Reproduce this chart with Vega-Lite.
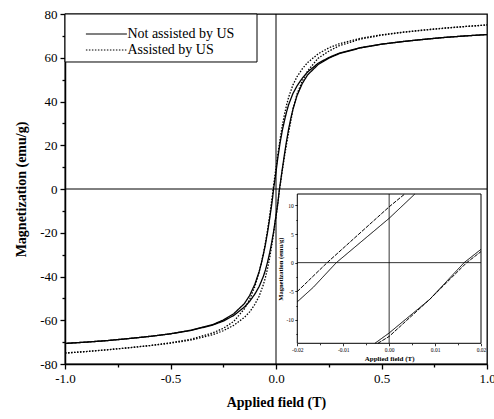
{
  "$schema": "https://vega.github.io/schema/vega-lite/v6.json",
  "width": 422,
  "height": 350,
  "autosize": {"type": "none"},
  "padding": {"left": 65, "top": 14, "right": 7, "bottom": 55},
  "background": "white",
  "config": {
    "font": "Liberation Serif",
    "view": {"stroke": "black", "strokeWidth": 1.3},
    "axis": {
      "grid": false,
      "tickCount": 100,
      "domainColor": "black",
      "tickColor": "black",
      "labelColor": "black",
      "titleColor": "black",
      "labelFont": "Liberation Serif",
      "titleFont": "Liberation Serif",
      "titleFontWeight": "bold"
    }
  },
  "datasets": {
    "loops": [
      {"s": "Not assisted by US", "b": "down", "h": 1.0, "m": 70.6},
      {"s": "Not assisted by US", "b": "down", "h": 0.9, "m": 70.0},
      {"s": "Not assisted by US", "b": "down", "h": 0.8, "m": 69.3},
      {"s": "Not assisted by US", "b": "down", "h": 0.7, "m": 68.4},
      {"s": "Not assisted by US", "b": "down", "h": 0.6, "m": 67.4},
      {"s": "Not assisted by US", "b": "down", "h": 0.5, "m": 66.2},
      {"s": "Not assisted by US", "b": "down", "h": 0.4, "m": 64.6},
      {"s": "Not assisted by US", "b": "down", "h": 0.3, "m": 62.1},
      {"s": "Not assisted by US", "b": "down", "h": 0.25, "m": 60.1},
      {"s": "Not assisted by US", "b": "down", "h": 0.2, "m": 57.5},
      {"s": "Not assisted by US", "b": "down", "h": 0.15, "m": 53.5},
      {"s": "Not assisted by US", "b": "down", "h": 0.125, "m": 50.7},
      {"s": "Not assisted by US", "b": "down", "h": 0.1, "m": 47.2},
      {"s": "Not assisted by US", "b": "down", "h": 0.08, "m": 43.6},
      {"s": "Not assisted by US", "b": "down", "h": 0.06, "m": 38.6},
      {"s": "Not assisted by US", "b": "down", "h": 0.05, "m": 35.2},
      {"s": "Not assisted by US", "b": "down", "h": 0.04, "m": 31.2},
      {"s": "Not assisted by US", "b": "down", "h": 0.03, "m": 26.8},
      {"s": "Not assisted by US", "b": "down", "h": 0.02, "m": 21.5},
      {"s": "Not assisted by US", "b": "down", "h": 0.01, "m": 15.2},
      {"s": "Not assisted by US", "b": "down", "h": 0.0056, "m": 12.0},
      {"s": "Not assisted by US", "b": "down", "h": 0.0, "m": 7.75},
      {"s": "Not assisted by US", "b": "down", "h": -0.0115, "m": 0.0},
      {"s": "Not assisted by US", "b": "down", "h": -0.0165, "m": -4.3},
      {"s": "Not assisted by US", "b": "down", "h": -0.02, "m": -6.85},
      {"s": "Not assisted by US", "b": "down", "h": -0.03, "m": -13.5},
      {"s": "Not assisted by US", "b": "down", "h": -0.04, "m": -19.7},
      {"s": "Not assisted by US", "b": "down", "h": -0.05, "m": -25.3},
      {"s": "Not assisted by US", "b": "down", "h": -0.06, "m": -30.0},
      {"s": "Not assisted by US", "b": "down", "h": -0.07, "m": -34.2},
      {"s": "Not assisted by US", "b": "down", "h": -0.08, "m": -37.8},
      {"s": "Not assisted by US", "b": "down", "h": -0.1, "m": -43.5},
      {"s": "Not assisted by US", "b": "down", "h": -0.125, "m": -48.7},
      {"s": "Not assisted by US", "b": "down", "h": -0.15, "m": -52.4},
      {"s": "Not assisted by US", "b": "down", "h": -0.2, "m": -57.0},
      {"s": "Not assisted by US", "b": "down", "h": -0.25, "m": -59.9},
      {"s": "Not assisted by US", "b": "down", "h": -0.3, "m": -62.0},
      {"s": "Not assisted by US", "b": "down", "h": -0.4, "m": -64.5},
      {"s": "Not assisted by US", "b": "down", "h": -0.5, "m": -66.2},
      {"s": "Not assisted by US", "b": "down", "h": -0.6, "m": -67.4},
      {"s": "Not assisted by US", "b": "down", "h": -0.7, "m": -68.4},
      {"s": "Not assisted by US", "b": "down", "h": -0.8, "m": -69.3},
      {"s": "Not assisted by US", "b": "down", "h": -0.9, "m": -70.0},
      {"s": "Not assisted by US", "b": "down", "h": -1.0, "m": -70.6},
      {"s": "Not assisted by US", "b": "up", "h": -1.0, "m": -70.6},
      {"s": "Not assisted by US", "b": "up", "h": -0.9, "m": -70.0},
      {"s": "Not assisted by US", "b": "up", "h": -0.8, "m": -69.3},
      {"s": "Not assisted by US", "b": "up", "h": -0.7, "m": -68.4},
      {"s": "Not assisted by US", "b": "up", "h": -0.6, "m": -67.4},
      {"s": "Not assisted by US", "b": "up", "h": -0.5, "m": -66.2},
      {"s": "Not assisted by US", "b": "up", "h": -0.4, "m": -64.6},
      {"s": "Not assisted by US", "b": "up", "h": -0.3, "m": -62.2},
      {"s": "Not assisted by US", "b": "up", "h": -0.25, "m": -60.4},
      {"s": "Not assisted by US", "b": "up", "h": -0.2, "m": -57.8},
      {"s": "Not assisted by US", "b": "up", "h": -0.15, "m": -54.0},
      {"s": "Not assisted by US", "b": "up", "h": -0.125, "m": -51.4},
      {"s": "Not assisted by US", "b": "up", "h": -0.1, "m": -48.0},
      {"s": "Not assisted by US", "b": "up", "h": -0.08, "m": -44.6},
      {"s": "Not assisted by US", "b": "up", "h": -0.06, "m": -40.0},
      {"s": "Not assisted by US", "b": "up", "h": -0.05, "m": -37.0},
      {"s": "Not assisted by US", "b": "up", "h": -0.04, "m": -33.4},
      {"s": "Not assisted by US", "b": "up", "h": -0.03, "m": -29.2},
      {"s": "Not assisted by US", "b": "up", "h": -0.02, "m": -24.3},
      {"s": "Not assisted by US", "b": "up", "h": -0.01, "m": -18.7},
      {"s": "Not assisted by US", "b": "up", "h": -0.0031, "m": -14.1},
      {"s": "Not assisted by US", "b": "up", "h": 0.0, "m": -12.3},
      {"s": "Not assisted by US", "b": "up", "h": 0.00886, "m": -6.4},
      {"s": "Not assisted by US", "b": "up", "h": 0.01633, "m": 0.0},
      {"s": "Not assisted by US", "b": "up", "h": 0.02, "m": 2.33},
      {"s": "Not assisted by US", "b": "up", "h": 0.03, "m": 9.2},
      {"s": "Not assisted by US", "b": "up", "h": 0.04, "m": 15.8},
      {"s": "Not assisted by US", "b": "up", "h": 0.05, "m": 22.0},
      {"s": "Not assisted by US", "b": "up", "h": 0.06, "m": 27.5},
      {"s": "Not assisted by US", "b": "up", "h": 0.07, "m": 32.2},
      {"s": "Not assisted by US", "b": "up", "h": 0.08, "m": 36.3},
      {"s": "Not assisted by US", "b": "up", "h": 0.1, "m": 42.8},
      {"s": "Not assisted by US", "b": "up", "h": 0.125, "m": 48.3},
      {"s": "Not assisted by US", "b": "up", "h": 0.15, "m": 52.2},
      {"s": "Not assisted by US", "b": "up", "h": 0.2, "m": 56.9},
      {"s": "Not assisted by US", "b": "up", "h": 0.25, "m": 59.8},
      {"s": "Not assisted by US", "b": "up", "h": 0.3, "m": 61.9},
      {"s": "Not assisted by US", "b": "up", "h": 0.4, "m": 64.5},
      {"s": "Not assisted by US", "b": "up", "h": 0.5, "m": 66.2},
      {"s": "Not assisted by US", "b": "up", "h": 0.6, "m": 67.4},
      {"s": "Not assisted by US", "b": "up", "h": 0.7, "m": 68.4},
      {"s": "Not assisted by US", "b": "up", "h": 0.8, "m": 69.3},
      {"s": "Not assisted by US", "b": "up", "h": 0.9, "m": 70.0},
      {"s": "Not assisted by US", "b": "up", "h": 1.0, "m": 70.6},
      {"s": "Assisted by US", "b": "down", "h": 1.0, "m": 75.0},
      {"s": "Assisted by US", "b": "down", "h": 0.9, "m": 74.3},
      {"s": "Assisted by US", "b": "down", "h": 0.8, "m": 73.6},
      {"s": "Assisted by US", "b": "down", "h": 0.7, "m": 72.7},
      {"s": "Assisted by US", "b": "down", "h": 0.6, "m": 71.7},
      {"s": "Assisted by US", "b": "down", "h": 0.5, "m": 70.5},
      {"s": "Assisted by US", "b": "down", "h": 0.4, "m": 68.9},
      {"s": "Assisted by US", "b": "down", "h": 0.3, "m": 66.4},
      {"s": "Assisted by US", "b": "down", "h": 0.25, "m": 64.5},
      {"s": "Assisted by US", "b": "down", "h": 0.2, "m": 61.8},
      {"s": "Assisted by US", "b": "down", "h": 0.15, "m": 57.8},
      {"s": "Assisted by US", "b": "down", "h": 0.125, "m": 55.0},
      {"s": "Assisted by US", "b": "down", "h": 0.1, "m": 51.4},
      {"s": "Assisted by US", "b": "down", "h": 0.08, "m": 47.5},
      {"s": "Assisted by US", "b": "down", "h": 0.06, "m": 42.0},
      {"s": "Assisted by US", "b": "down", "h": 0.05, "m": 38.3},
      {"s": "Assisted by US", "b": "down", "h": 0.04, "m": 34.0},
      {"s": "Assisted by US", "b": "down", "h": 0.03, "m": 29.0},
      {"s": "Assisted by US", "b": "down", "h": 0.02, "m": 23.2},
      {"s": "Assisted by US", "b": "down", "h": 0.01, "m": 16.6},
      {"s": "Assisted by US", "b": "down", "h": 0.0034, "m": 12.0},
      {"s": "Assisted by US", "b": "down", "h": 0.0, "m": 9.76},
      {"s": "Assisted by US", "b": "down", "h": -0.0135, "m": 0.0},
      {"s": "Assisted by US", "b": "down", "h": -0.02, "m": -5.05},
      {"s": "Assisted by US", "b": "down", "h": -0.03, "m": -12.2},
      {"s": "Assisted by US", "b": "down", "h": -0.04, "m": -18.7},
      {"s": "Assisted by US", "b": "down", "h": -0.05, "m": -24.5},
      {"s": "Assisted by US", "b": "down", "h": -0.06, "m": -29.6},
      {"s": "Assisted by US", "b": "down", "h": -0.07, "m": -34.0},
      {"s": "Assisted by US", "b": "down", "h": -0.08, "m": -38.0},
      {"s": "Assisted by US", "b": "down", "h": -0.1, "m": -44.5},
      {"s": "Assisted by US", "b": "down", "h": -0.125, "m": -50.5},
      {"s": "Assisted by US", "b": "down", "h": -0.15, "m": -54.8},
      {"s": "Assisted by US", "b": "down", "h": -0.2, "m": -60.5},
      {"s": "Assisted by US", "b": "down", "h": -0.25, "m": -63.7},
      {"s": "Assisted by US", "b": "down", "h": -0.3, "m": -65.8},
      {"s": "Assisted by US", "b": "down", "h": -0.4, "m": -68.6},
      {"s": "Assisted by US", "b": "down", "h": -0.5, "m": -70.3},
      {"s": "Assisted by US", "b": "down", "h": -0.6, "m": -71.6},
      {"s": "Assisted by US", "b": "down", "h": -0.7, "m": -72.6},
      {"s": "Assisted by US", "b": "down", "h": -0.8, "m": -73.5},
      {"s": "Assisted by US", "b": "down", "h": -0.9, "m": -74.3},
      {"s": "Assisted by US", "b": "down", "h": -1.0, "m": -75.0},
      {"s": "Assisted by US", "b": "up", "h": -1.0, "m": -75.0},
      {"s": "Assisted by US", "b": "up", "h": -0.9, "m": -74.3},
      {"s": "Assisted by US", "b": "up", "h": -0.8, "m": -73.5},
      {"s": "Assisted by US", "b": "up", "h": -0.7, "m": -72.6},
      {"s": "Assisted by US", "b": "up", "h": -0.6, "m": -71.6},
      {"s": "Assisted by US", "b": "up", "h": -0.5, "m": -70.5},
      {"s": "Assisted by US", "b": "up", "h": -0.4, "m": -69.0},
      {"s": "Assisted by US", "b": "up", "h": -0.3, "m": -66.6},
      {"s": "Assisted by US", "b": "up", "h": -0.25, "m": -64.8},
      {"s": "Assisted by US", "b": "up", "h": -0.2, "m": -62.3},
      {"s": "Assisted by US", "b": "up", "h": -0.15, "m": -58.7},
      {"s": "Assisted by US", "b": "up", "h": -0.125, "m": -56.2},
      {"s": "Assisted by US", "b": "up", "h": -0.1, "m": -52.7},
      {"s": "Assisted by US", "b": "up", "h": -0.08, "m": -49.0},
      {"s": "Assisted by US", "b": "up", "h": -0.06, "m": -43.8},
      {"s": "Assisted by US", "b": "up", "h": -0.05, "m": -40.4},
      {"s": "Assisted by US", "b": "up", "h": -0.04, "m": -36.3},
      {"s": "Assisted by US", "b": "up", "h": -0.03, "m": -31.5},
      {"s": "Assisted by US", "b": "up", "h": -0.02, "m": -25.8},
      {"s": "Assisted by US", "b": "up", "h": -0.01, "m": -19.3},
      {"s": "Assisted by US", "b": "up", "h": -0.00245, "m": -14.1},
      {"s": "Assisted by US", "b": "up", "h": 0.0, "m": -12.9},
      {"s": "Assisted by US", "b": "up", "h": 0.00886, "m": -6.4},
      {"s": "Assisted by US", "b": "up", "h": 0.01688, "m": 0.0},
      {"s": "Assisted by US", "b": "up", "h": 0.02, "m": 1.93},
      {"s": "Assisted by US", "b": "up", "h": 0.03, "m": 8.5},
      {"s": "Assisted by US", "b": "up", "h": 0.04, "m": 14.8},
      {"s": "Assisted by US", "b": "up", "h": 0.05, "m": 20.6},
      {"s": "Assisted by US", "b": "up", "h": 0.06, "m": 26.0},
      {"s": "Assisted by US", "b": "up", "h": 0.07, "m": 30.8},
      {"s": "Assisted by US", "b": "up", "h": 0.08, "m": 36.5},
      {"s": "Assisted by US", "b": "up", "h": 0.1, "m": 43.5},
      {"s": "Assisted by US", "b": "up", "h": 0.125, "m": 49.5},
      {"s": "Assisted by US", "b": "up", "h": 0.15, "m": 54.0},
      {"s": "Assisted by US", "b": "up", "h": 0.2, "m": 59.8},
      {"s": "Assisted by US", "b": "up", "h": 0.25, "m": 63.0},
      {"s": "Assisted by US", "b": "up", "h": 0.3, "m": 65.5},
      {"s": "Assisted by US", "b": "up", "h": 0.4, "m": 68.5},
      {"s": "Assisted by US", "b": "up", "h": 0.5, "m": 70.3},
      {"s": "Assisted by US", "b": "up", "h": 0.6, "m": 71.6},
      {"s": "Assisted by US", "b": "up", "h": 0.7, "m": 72.6},
      {"s": "Assisted by US", "b": "up", "h": 0.8, "m": 73.5},
      {"s": "Assisted by US", "b": "up", "h": 0.9, "m": 74.3},
      {"s": "Assisted by US", "b": "up", "h": 1.0, "m": 75.0}
    ]
  },
  "layer": [
    {
      "layer": [
        {
          "data": {"values": [{"h": 0}]},
          "mark": {"type": "rule", "color": "black", "strokeWidth": 1},
          "encoding": {
            "x": {
              "field": "h",
              "type": "quantitative",
              "scale": {"domain": [-1, 1], "nice": false, "zero": false},
              "axis": {
                "title": "Applied field (T)",
                "values": [-1, -0.75, -0.5, -0.25, 0, 0.25, 0.5, 0.75, 1],
                "format": ".1f",
                "labelExpr": "abs(datum.value * 2 - round(datum.value * 2)) < 0.001 ? replace(datum.label, '\u2212', '-') : ''",
                "tickSize": {"condition": {"test": "abs(datum.value * 2 - round(datum.value * 2)) > 0.001", "value": 3}, "value": 5},
                "domainWidth": 1.5,
                "tickWidth": 1.3,
                "labelFontSize": 13,
                "labelPadding": 3,
                "labelFlush": false,
                "titleFontSize": 14,
                "titlePadding": 10
              }
            }
          }
        },
        {
          "data": {"values": [{"m": 0}]},
          "mark": {"type": "rule", "color": "black", "strokeWidth": 1},
          "encoding": {
            "y": {
              "field": "m",
              "type": "quantitative",
              "scale": {"domain": [-80, 80], "nice": false, "zero": false},
              "axis": {
                "title": "Magnetization (emu/g)",
                "values": [-80, -70, -60, -50, -40, -30, -20, -10, 0, 10, 20, 30, 40, 50, 60, 70, 80],
                "labelExpr": "datum.value % 20 === 0 ? toString(datum.value) : ''",
                "tickSize": {"condition": {"test": "datum.value % 20 !== 0", "value": 3}, "value": 5},
                "domainWidth": 1.5,
                "tickWidth": 1.3,
                "labelFontSize": 13,
                "labelPadding": 3,
                "labelFlush": false,
                "labelOverlap": false,
                "titleFontSize": 14,
                "titlePadding": 11
              }
            }
          }
        },
        {
          "data": {"values": [{"h": -1, "h2": -0.09, "m": 58.06, "m2": 80}]},
          "mark": {"type": "rect", "fill": "white", "stroke": "black", "strokeWidth": 1},
          "encoding": {
            "x": {"field": "h", "type": "quantitative"},
            "x2": {"field": "h2"},
            "y": {"field": "m", "type": "quantitative"},
            "y2": {"field": "m2"}
          }
        },
        {
          "data": {"name": "loops"},
          "mark": {"type": "line", "color": "black", "strokeWidth": 1.3, "clip": true},
          "encoding": {
            "x": {"field": "h", "type": "quantitative"},
            "y": {"field": "m", "type": "quantitative"},
            "detail": {"field": "b"},
            "strokeDash": {
              "field": "s",
              "type": "nominal",
              "scale": {"domain": ["Not assisted by US", "Assisted by US"], "range": [[1, 0], [1.5, 1.5]]},
              "legend": {
                "title": null,
                "orient": "none",
                "legendX": 34.4,
                "legendY": 13,
                "padding": 0,
                "symbolType": "M-4,0H4",
                "symbolSize": 105,
                "symbolStrokeColor": "black",
                "symbolStrokeWidth": 1.2,
                "labelFont": "Liberation Serif",
                "labelFontSize": 14,
                "labelColor": "black",
                "labelOffset": 14,
                "rowPadding": 2
              }
            }
          }
        }
      ]
    },
    {
      "layer": [
        {
          "data": {"values": [{"h": -0.02, "h2": 0.02, "m": -14.1, "m2": 12}]},
          "mark": {"type": "rect", "fill": "white", "stroke": "black", "strokeWidth": 1},
          "encoding": {
            "x": {
              "field": "h",
              "type": "quantitative",
              "scale": {"domain": [-0.02, 0.02], "range": [232.3, 416], "nice": false, "zero": false},
              "axis": {
                "orient": "bottom",
                "offset": -20.7,
                "zindex": 1,
                "domain": false,
                "title": "Applied field (T)",
                "values": [-0.02, -0.015, -0.01, -0.005, 0, 0.005, 0.01, 0.015, 0.02],
                "format": ".2f",
                "labelExpr": "abs(datum.value * 100 - round(datum.value * 100)) < 0.001 ? replace(datum.label, '\u2212', '-') : ''",
                "tickSize": {"condition": {"test": "abs(datum.value * 100 - round(datum.value * 100)) > 0.001", "value": 1.5}, "value": 2.5},
                "tickWidth": 0.8,
                "labelFontSize": 5.5,
                "labelPadding": 1.5,
                "labelFlush": false,
                "labelOverlap": false,
                "titleFontSize": 7,
                "titlePadding": 1.5
              }
            },
            "x2": {"field": "h2"},
            "y": {
              "field": "m",
              "type": "quantitative",
              "scale": {"domain": [-14.1, 12], "range": [329.3, 180], "nice": false, "zero": false},
              "axis": {
                "orient": "left",
                "offset": -232.3,
                "zindex": 1,
                "domain": false,
                "title": "Magnetization (emu/g)",
                "values": [-12.5, -10, -7.5, -5, -2.5, 0, 2.5, 5, 7.5, 10],
                "labelExpr": "datum.value % 5 === 0 ? toString(datum.value) : ''",
                "tickSize": {"condition": {"test": "datum.value % 5 !== 0", "value": 1.5}, "value": 2.5},
                "tickWidth": 0.8,
                "labelFontSize": 5.5,
                "labelPadding": 1.5,
                "labelFlush": false,
                "labelOverlap": false,
                "minExtent": 0,
                "titleFontSize": 6.5,
                "titlePadding": 2
              }
            },
            "y2": {"field": "m2"}
          }
        },
        {
          "data": {"values": [{"h": 0, "m": -14.1, "m2": 12}]},
          "mark": {"type": "rule", "color": "black", "strokeWidth": 0.8},
          "encoding": {
            "x": {"field": "h", "type": "quantitative"},
            "y": {"field": "m", "type": "quantitative"},
            "y2": {"field": "m2"}
          }
        },
        {
          "data": {"values": [{"h": -0.02, "h2": 0.02, "m": 0}]},
          "mark": {"type": "rule", "color": "black", "strokeWidth": 0.8},
          "encoding": {
            "x": {"field": "h", "type": "quantitative"},
            "x2": {"field": "h2"},
            "y": {"field": "m", "type": "quantitative"}
          }
        },
        {
          "data": {"name": "loops"},
          "transform": [
            {"filter": "datum.h >= -0.0201 && datum.h <= 0.0201 && datum.m >= -14.11 && datum.m <= 12.01"}
          ],
          "mark": {"type": "line", "color": "black", "strokeWidth": 1},
          "encoding": {
            "x": {"field": "h", "type": "quantitative"},
            "y": {"field": "m", "type": "quantitative"},
            "detail": {"field": "b"},
            "strokeDash": {
              "field": "s",
              "type": "nominal",
              "scale": {"domain": ["Not assisted by US", "Assisted by US"], "range": [[1, 0], [4, 1.2]]},
              "legend": null
            }
          }
        }
      ]
    }
  ],
  "resolve": {"scale": {"x": "independent", "y": "independent", "strokeDash": "independent"}}
}
